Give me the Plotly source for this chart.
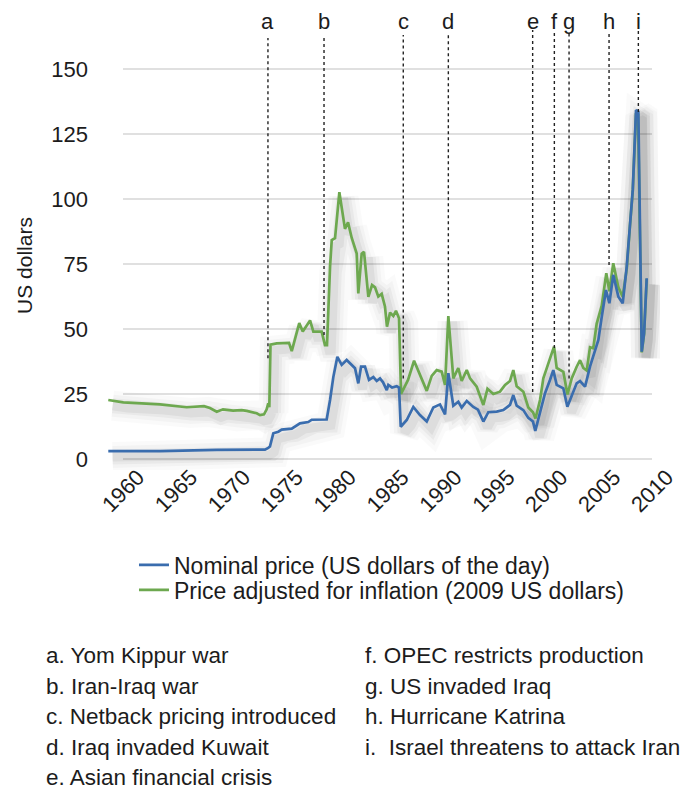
import plotly.graph_objects as go

# ---------------- data ----------------
nominal_years = [1958.61, 1963.50, 1968.86, 1972.00, 1973.42, 1973.73, 1973.89, 1974.21, 1974.68, 1975.00,
                 1975.95, 1976.73, 1977.51, 1977.84, 1979.25, 1979.57, 1979.88, 1980.26, 1980.67, 1981.14,
                 1981.62, 1981.93, 1982.24, 1982.50, 1982.87, 1983.25, 1983.66, 1983.98, 1984.29, 1984.58,
                 1984.93, 1985.08, 1985.43, 1985.87, 1986.09, 1986.25, 1986.82, 1987.44, 1988.07, 1988.71,
                 1989.33, 1989.96, 1990.44, 1990.75, 1991.22, 1991.69, 1992.01, 1992.49, 1993.11, 1993.55,
                 1994.06, 1994.53, 1995.32, 1995.95, 1996.58, 1996.89, 1997.21, 1997.84, 1998.31, 1998.75,
                 1998.97, 1999.42, 1999.89, 2000.36, 2000.67, 2000.99, 2001.62, 2002.00, 2002.41, 2002.88,
                 2003.20, 2003.67, 2004.14, 2004.61, 2004.93, 2005.25, 2005.65, 2005.97, 2006.34, 2006.82,
                 2007.23, 2007.61, 2007.92, 2008.18, 2008.49, 2008.71, 2009.03, 2009.25, 2009.50]
nominal_price = [3.0, 3.0, 3.5, 3.5, 3.6, 4.3, 4.8, 9.9, 10.5, 11.3,
                 11.7, 13.7, 14.2, 15.1, 15.2, 22.7, 31.5, 39.3, 36.2, 38.1,
                 36.2, 34.9, 29.1, 35.5, 35.5, 30.4, 31.5, 30.0, 31.0, 29.5,
                 26.5, 28.5, 27.5, 28.0, 27.5, 12.4, 15.0, 20.0, 16.9, 14.4,
                 19.8, 21.0, 17.2, 33.0, 20.5, 22.0, 19.8, 22.3, 20.0, 19.0,
                 14.4, 18.0, 18.2, 18.8, 20.8, 24.6, 20.5, 18.8, 15.8, 14.4,
                 10.8, 17.6, 25.3, 30.4, 34.2, 28.5, 27.2, 20.1, 24.6, 29.1,
                 30.0, 27.8, 35.5, 41.5, 45.8, 54.7, 65.0, 59.9, 70.8, 62.4,
                 59.9, 74.0, 90.6, 103.5, 134.2, 133.6, 41.3, 48.3, 69.5]

real_years = [1958.61, 1960.03, 1963.50, 1966.02, 1967.66, 1968.22, 1968.86, 1969.45, 1970.40, 1971.22,
              1971.69, 1972.64, 1972.95, 1973.33, 1973.58, 1973.73, 1973.83, 1973.94, 1974.53, 1975.47,
              1975.69, 1975.95, 1976.26, 1976.66, 1976.99, 1977.68, 1977.99, 1978.78, 1979.09, 1979.28,
              1979.57, 1979.73, 1980.04, 1980.45, 1980.98, 1981.27, 1981.62, 1982.09, 1982.24, 1982.56,
              1982.78, 1983.19, 1983.54, 1983.82, 1984.13, 1984.45, 1984.76, 1984.95, 1985.24, 1985.55,
              1985.80, 1986.09, 1986.28, 1986.94, 1987.51, 1987.98, 1988.71, 1989.18, 1989.65, 1990.12,
              1990.44, 1990.75, 1991.22, 1991.69, 1992.01, 1992.49, 1992.80, 1993.43, 1994.06, 1994.45,
              1995.00, 1995.63, 1996.11, 1996.58, 1996.89, 1997.21, 1997.84, 1998.31, 1998.75, 1998.99,
              1999.42, 1999.73, 2000.36, 2000.74, 2000.99, 2001.62, 2002.01, 2002.41, 2002.88, 2003.20,
              2003.51, 2003.83, 2004.14, 2004.45, 2004.77, 2005.25, 2005.68, 2005.97, 2006.34, 2006.82,
              2007.23, 2007.61, 2007.92, 2008.18, 2008.49, 2008.68, 2009.03, 2009.25, 2009.50]
real_price = [22.7, 21.8, 21.0, 19.9, 20.3, 19.6, 18.2, 19.1, 18.6, 18.8,
              18.5, 17.6, 16.9, 17.2, 19.1, 21.4, 19.9, 44.0, 44.5, 44.5,
              44.7, 41.5, 45.8, 52.3, 49.0, 53.3, 49.0, 49.0, 43.8, 43.8,
              74.0, 84.2, 84.9, 102.6, 88.5, 91.0, 85.0, 79.0, 63.7, 79.0,
              79.7, 62.4, 66.9, 66.0, 62.5, 63.5, 58.7, 50.9, 56.3, 55.0,
              57.0, 54.1, 25.0, 30.4, 37.8, 33.0, 26.2, 32.0, 34.2, 33.6,
              28.5, 55.0, 31.0, 35.0, 30.0, 34.2, 31.0, 27.8, 20.8, 27.0,
              25.0, 25.9, 28.5, 30.0, 34.2, 28.0, 25.9, 19.8, 18.0, 15.6,
              22.7, 31.0, 38.5, 43.2, 35.0, 33.5, 24.8, 31.0, 35.5, 38.0,
              35.0, 34.0, 43.0, 42.6, 52.0, 59.0, 71.5, 64.5, 75.3, 66.0,
              62.4, 73.0, 90.0, 103.0, 133.0, 132.5, 41.0, 48.0, 69.3]

tick_years = [1960, 1965, 1970, 1975, 1980, 1985, 1990, 1995, 2000, 2005, 2010]
tick_labels = [str(y) for y in tick_years]
y_ticks = [0, 25, 50, 75, 100, 125, 150]

event_letters = ["a", "b", "c", "d", "e", "f", "g", "h", "i"]
event_years = [1973.70, 1979.00, 1986.49, 1990.75, 1998.72, 2000.77, 2002.16, 2005.94, 2008.71]
event_notes = ["a. Yom Kippur war", "b. Iran-Iraq war", "c. Netback pricing introduced",
               "d. Iraq invaded Kuwait", "e. Asian financial crisis", "f. OPEC restricts production",
               "g. US invaded Iraq", "h. Hurricane Katrina", "i.\u00a0 Israel threatens to attack Iran"]

series_names = ["Nominal price (US dollars of the day)",
                "Price adjusted for inflation (2009 US dollars)"]

# ---------------- styling ----------------
BLUE = "#3A6DAE"
GREEN = "#6DA84F"
FONT = "Liberation Sans, Arial, sans-serif"
TXT = "#1c1c1c"
line_bottoms = [38.8, 47.7, 31.0, 58.0, 25.8, 42.7, 31.0, 74.6, 133.5]
line_tops = [161.9, 161.9, 163.1, 163.1, 165.0, 164.6, 164.6, 164.2, 165.0]

fig = go.Figure()

# soft drop shadows (data shifted slightly right/down)
dx, dy = 0.4, -2.2
for xs, ys in [(real_years, real_price), (nominal_years, nominal_price)]:
    for w, a in [(30, 0.018), (22, 0.028), (15, 0.04), (9, 0.05)]:
        fig.add_trace(go.Scatter(x=[v + dx for v in xs], y=[v + dy for v in ys], mode="lines",
                                 line=dict(color=f"rgba(0,0,0,{a})", width=w),
                                 hoverinfo="skip", showlegend=False))

fig.add_trace(go.Scatter(x=real_years, y=real_price, mode="lines", name=series_names[1],
                         line=dict(color=GREEN, width=2.7), legend="legend2"))
fig.add_trace(go.Scatter(x=nominal_years, y=nominal_price, mode="lines", name=series_names[0],
                         line=dict(color=BLUE, width=2.7), legend="legend"))

shapes = []
for yv in y_ticks:
    shapes.append(dict(type="line", xref="x", yref="y", x0=tick_years[0], x1=tick_years[-1],
                       y0=yv, y1=yv, line=dict(color="#d6d6d6", width=1.5), layer="below"))
for yr, b, t in zip(event_years, line_bottoms, line_tops):
    shapes.append(dict(type="line", xref="x", yref="y", x0=yr, x1=yr, y0=b, y1=t,
                       line=dict(color="#222222", width=1.4, dash="dot"), layer="above"))

annotations = []
for lt, yr in zip(event_letters, event_years):
    annotations.append(dict(x=yr, y=0.975, xref="x", yref="paper", text=lt, showarrow=False,
                            xanchor="center", yanchor="middle", font=dict(size=22, color=TXT, family=FONT)))

annotations.append(dict(x=-0.134, y=0.4457, xref="paper", yref="paper", text="US dollars",
                        textangle=-90, showarrow=False, xanchor="center", yanchor="middle",
                        font=dict(size=21, color=TXT, family=FONT)))

row_y = [-0.4043, -0.4706, -0.5369, -0.6032, -0.6695]
for i, note in enumerate(event_notes):
    if i < 5:
        x, y = -0.1, row_y[i]
    else:
        x, y = 0.469, row_y[i - 5]
    annotations.append(dict(x=x, y=y, xref="paper", yref="paper", text=note, showarrow=False,
                            xanchor="left", yanchor="middle", font=dict(size=22.5, color=TXT, family=FONT)))

legend_style = dict(x=0.0607, xanchor="left", yanchor="middle", orientation="v",
                    font=dict(size=23, color=TXT, family=FONT), bgcolor="rgba(0,0,0,0)",
                    itemwidth=30)

fig.update_layout(
    width=690, height=781,
    margin=dict(l=92, r=38, t=2, b=319),
    paper_bgcolor="white", plot_bgcolor="white",
    font=dict(family=FONT, color=TXT),
    xaxis=dict(range=[1957.826, 2010.756], tickvals=tick_years, ticktext=tick_labels,
               tickangle=-45, showgrid=False, zeroline=False, showline=False, ticks="",
               tickfont=dict(size=22, color=TXT, family=FONT), ticklabelshift=15,
               ticklabelstandoff=-11, fixedrange=True),
    yaxis=dict(range=[-4.23, 172.7], tickvals=y_ticks, showgrid=False, zeroline=False,
               showline=False, ticks="", tickfont=dict(size=22, color=TXT, family=FONT),
               ticklabelstandoff=11, fixedrange=True),
    shapes=shapes,
    annotations=annotations,
    showlegend=True,
    legend=dict(y=-0.2065, **legend_style),
    legend2=dict(y=-0.2609, **legend_style),
)

fig.write_html("out.html")
